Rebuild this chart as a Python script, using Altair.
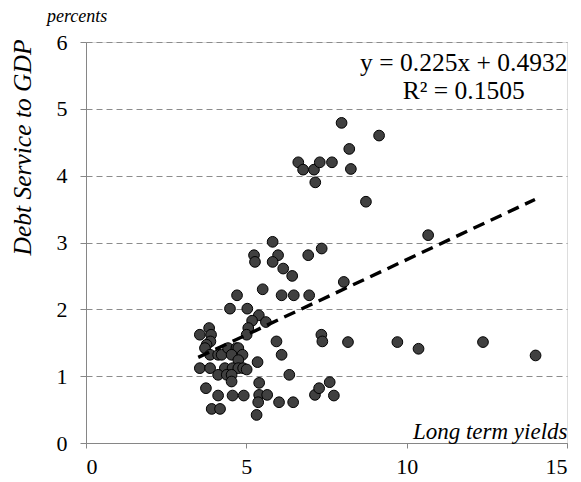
import altair as alt
import pandas as pd

# Long term yields (x) and Debt service to GDP (y)
xs = [7.97, 9.14, 8.21, 8.26, 6.62, 6.77, 7.11, 7.29, 7.67, 7.15, 8.73, 10.67,
      5.82, 5.24, 5.27, 5.99, 5.82, 6.15, 6.43, 6.93, 7.35, 8.04, 5.51, 4.71,
      6.10, 6.48, 6.96, 4.49, 5.03, 5.39, 5.18, 5.61, 5.06, 5.01,
      8.17, 9.71, 10.37, 12.38, 14.02, 7.34, 7.37, 5.94, 6.10, 5.35, 6.34,
      3.84, 3.55, 3.90, 3.88, 3.76, 3.71, 3.87, 4.12, 4.23, 4.43, 4.69, 4.75,
      4.54, 4.88, 4.75, 3.55, 3.87, 4.33, 4.57, 4.75, 4.90, 5.01, 4.12, 4.39,
      4.54, 4.54, 3.74, 5.40, 4.12, 4.57, 4.92, 5.40, 5.65, 5.37, 6.02, 6.46,
      3.92, 4.18, 5.32, 7.14, 7.27, 7.60, 7.73]
ys = [4.79, 4.60, 4.40, 4.10, 4.20, 4.09, 4.09, 4.20, 4.20, 3.90, 3.61, 3.11,
      3.01, 2.81, 2.71, 2.81, 2.71, 2.61, 2.50, 2.81, 2.91, 2.41, 2.30, 2.21,
      2.21, 2.21, 2.21, 2.01, 2.01, 1.91, 1.83, 1.81, 1.72, 1.62,
      1.51, 1.51, 1.41, 1.51, 1.31, 1.62, 1.52, 1.52, 1.32, 1.21, 1.02,
      1.72, 1.62, 1.62, 1.52, 1.47, 1.42, 1.32, 1.32, 1.32, 1.42, 1.42, 1.42,
      1.32, 1.32, 1.24, 1.12, 1.12, 1.12, 1.12, 1.12, 1.12, 1.10, 1.02, 1.02,
      1.02, 0.92, 0.82, 0.90, 0.71, 0.71, 0.71, 0.72, 0.72, 0.61, 0.61, 0.61,
      0.51, 0.51, 0.42, 0.72, 0.82, 0.91, 0.71]

# Linear trend reported on the chart
slope = 0.225
intercept = 0.4932
trend_x = [3.5, 14.0]

eq_lines = ["y = 0.225x + 0.4932", "R² = 0.1505"]
eq_x = [11.78, 11.78]
eq_y = [5.57, 5.15]

unit_label = ["percents"]

x_ticks = [0, 5, 10, 15]
y_ticks = [0, 1, 2, 3, 4, 5, 6]

FONT = "Liberation Serif"
GRAY = "#868686"

df = pd.DataFrame({"x": xs, "y": ys})
tdf = pd.DataFrame({"x": trend_x})
edf = pd.DataFrame({"label": eq_lines, "x": eq_x, "y": eq_y})
udf = pd.DataFrame({"t": unit_label})

xscale = alt.Scale(domain=[0, 15], nice=False, zero=True)
yscale = alt.Scale(domain=[0, 6], nice=False, zero=True)

xaxis = alt.Axis(values=x_ticks, format="d", grid=False, domainColor=GRAY,
                 tickColor=GRAY, tickSize=5, labelFont=FONT, labelFontSize=22,
                 labelColor="black", labelPadding=8, title="Long term yields",
                 titleFont=FONT, titleFontSize=23, titleFontStyle="italic",
                 titleFontWeight="normal", titleColor="black", titleAnchor="end",
                 titleAlign="right", titleX=481, titleY=-5,
                 titleBaseline="alphabetic")
yaxis = alt.Axis(values=y_ticks, format="d", grid=True, gridColor="#8c8c8c",
                 gridDash=[6, 4], gridWidth=1, domainColor=GRAY, tickColor=GRAY,
                 tickSize=6, labelFont=FONT, labelFontSize=22, labelColor="black",
                 labelPadding=13, title="Debt Service to GDP", titleFont=FONT,
                 titleFontSize=25.5, titleFontStyle="italic", titleFontWeight="normal",
                 titleColor="black", titleAngle=-90, titleX=-64, titleY=-3,
                 titleAlign="right", titleBaseline="middle")

points = alt.Chart(df).mark_circle(size=115, color="#404040", stroke="black",
                                   strokeWidth=1, opacity=1).encode(
    x=alt.X("x:Q", scale=xscale, axis=xaxis),
    y=alt.Y("y:Q", scale=yscale, axis=yaxis),
)

trend = alt.Chart(tdf).transform_calculate(
    y=f"{slope} * datum.x + {intercept}"
).mark_line(color="black", strokeWidth=3.4, strokeDash=[12, 7]).encode(
    x=alt.X("x:Q", scale=xscale, axis=xaxis),
    y=alt.Y("y:Q", scale=yscale, axis=yaxis),
)

eq = alt.Chart(edf).mark_text(font=FONT, fontSize=25.5, color="black",
                              align="center", baseline="alphabetic").encode(
    x=alt.X("x:Q", scale=xscale, axis=xaxis),
    y=alt.Y("y:Q", scale=yscale, axis=yaxis),
    text="label:N",
)

unit = alt.Chart(udf).mark_text(font=FONT, fontSize=18, fontStyle="italic",
                                color="black", align="left",
                                baseline="alphabetic").encode(
    x=alt.value(-39), y=alt.value(-20), text="t:N"
)

chart = alt.layer(points, trend, eq, unit).properties(
    width=481, height=401,
    padding={"left": 86, "top": 42, "right": 14, "bottom": 39},
    autosize=alt.AutoSizeParams(type="none"),
).configure_view(stroke=None).configure(background="white")

chart.save("out.html", embed_options={"renderer": "svg", "actions": False})
